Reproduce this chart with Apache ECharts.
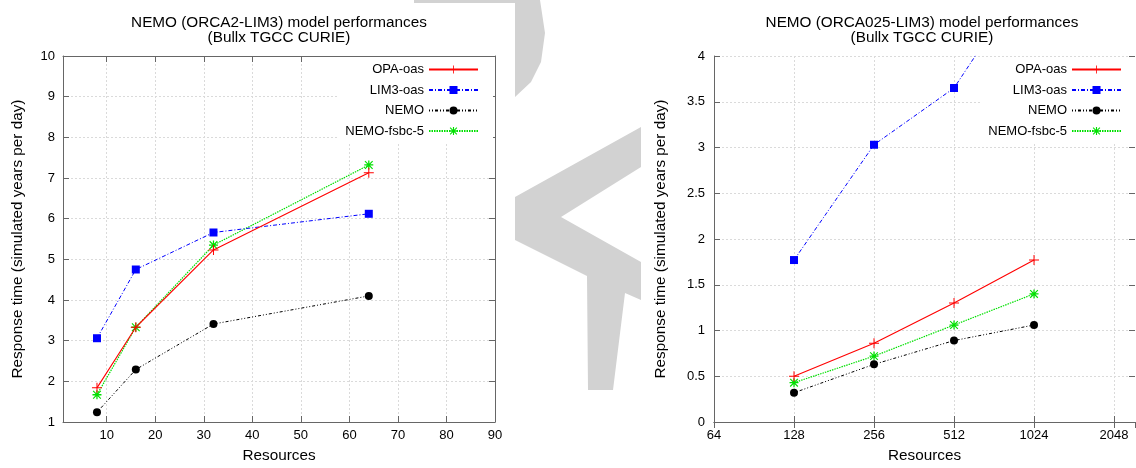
<!DOCTYPE html>
<html>
<head>
<meta charset="utf-8">
<title>NEMO model performances</title>
<script src="https://cdn.jsdelivr.net/npm/echarts@6/dist/echarts.min.js"></script>
<style>
  html, body { margin: 0; padding: 0; background: #fff; }
  #chart { width: 1136px; height: 468px; }
</style>
</head>
<body>
<div id="chart"></div>
<script>
// Left panel: ORCA2-LIM3
const resLeft = [8, 16, 32, 64];
const opaLeft = [1.84, 3.33, 5.23, 7.13];
const lim3Left = [3.06, 4.75, 5.66, 6.12];
const nemoLeft = [1.24, 2.29, 3.41, 4.10];
const fsbcLeft = [1.67, 3.33, 5.35, 7.32];

// Right panel: ORCA025-LIM3
const resRight = [128, 256, 512, 1024];
const opaRight = [0.50, 0.86, 1.30, 1.77];
const lim3Right = [1.77, 3.03, 3.65, 4.97];
const nemoRight = [0.32, 0.63, 0.89, 1.06];
const fsbcRight = [0.43, 0.72, 1.06, 1.40];

const seriesNames = ['OPA-oas', 'LIM3-oas', 'NEMO', 'NEMO-fsbc-5'];

const font = 'Liberation Sans, Arial, sans-serif';
const plusPath = 'path://M4.5,0h1v10h-1z M0,4.5h10v1h-10z';
const starPath = 'path://M4.3,0h1.4v10h-1.4z M0,4.3h10v1.4h-10z M1.2,0.3L9.7,8.8L8.8,9.7L0.3,1.2Z M8.8,0.3L9.7,1.2L1.2,9.7L0.3,8.8Z';

const styles = [
  { color: '#ff0000', dash: 'solid', width: 1.1, symbol: plusPath, size: 10 },
  { color: '#0000ff', dash: [4, 2, 1, 2], width: 1, symbol: 'rect', size: 8 },
  { color: '#000000', dash: [1, 2, 1, 2, 3, 2], width: 1, symbol: 'circle', size: 8 },
  { color: '#00e000', dash: [1.5, 1], width: 1.2, symbol: starPath, size: 9 }
];

const pairs = (xs, ys) => xs.map((x, i) => [x, ys[i]]);

const makeSeries = (gridIdx, xs, lists) => lists.map((ys, k) => ({
  name: seriesNames[k],
  type: 'line',
  xAxisIndex: gridIdx * 2,
  yAxisIndex: gridIdx * 2,
  data: pairs(xs, ys),
  symbol: styles[k].symbol,
  symbolSize: styles[k].size,
  showAllSymbol: true,
  clip: true,
  z: 10 - k,
  lineStyle: { color: styles[k].color, width: styles[k].width, type: styles[k].dash },
  itemStyle: { color: styles[k].color }
}));

const axisLine = { show: true, lineStyle: { color: '#666', width: 1 } };
const tick = { show: true, inside: true, length: 6, lineStyle: { color: '#666' } };
const grid = { show: true, lineStyle: { color: '#dadada', type: [2, 2], width: 1 } };
const label = { color: '#000', fontSize: 13, fontFamily: font };
const nameStyle = { color: '#000', fontSize: 15.3, fontFamily: font };

// primary axis + a mirror axis on the other side (gnuplot frame)
const mirror = (ax, pos, extra) => Object.assign({}, ax, {
  position: pos,
  name: '',
  axisLabel: { show: false },
  splitLine: { show: false }
}, extra || {});

const xLeft = {
  gridIndex: 0, type: 'value', min: 1, max: 90, splitNumber: 9,
  minInterval: 10, maxInterval: 10,
  name: 'Resources', nameLocation: 'middle', nameGap: 26, nameTextStyle: nameStyle,
  axisLine: axisLine, axisTick: tick, splitLine: grid,
  axisLabel: Object.assign({ margin: 7, showMinLabel: false }, label)
};
const yLeft = {
  gridIndex: 0, type: 'value', min: 1, max: 10, interval: 1,
  name: 'Response time (simulated years per day)', nameLocation: 'middle', nameGap: 38,
  nameTextStyle: nameStyle,
  axisLine: axisLine, axisTick: tick, splitLine: grid,
  axisLabel: Object.assign({ margin: 8 }, label)
};
const xRight = {
  gridIndex: 1, type: 'log', logBase: 2, min: 64, max: 2456,
  name: 'Resources', nameLocation: 'middle', nameGap: 26, nameTextStyle: nameStyle,
  axisLine: axisLine, axisTick: tick,
  splitLine: Object.assign({ showMaxLine: false }, grid),
  axisLabel: Object.assign({
    margin: 7, showMaxLabel: false,
    formatter: v => String(Math.round(v))
  }, label)
};
const yRight = {
  gridIndex: 1, type: 'value', min: 0, max: 4, interval: 0.5,
  name: 'Response time (simulated years per day)', nameLocation: 'middle', nameGap: 46,
  nameTextStyle: nameStyle,
  axisLine: axisLine, axisTick: tick, splitLine: grid,
  axisLabel: Object.assign({ margin: 9 }, label)
};

const legendBase = {
  orient: 'vertical',
  align: 'right',
  itemWidth: 49,
  itemHeight: 10,
  itemGap: 7.5,
  padding: [6, 14, 6, 8],
  backgroundColor: '#fff',
  top: 57,
  data: seriesNames,
  textStyle: { color: '#000', fontSize: 13, fontFamily: font },
  selectedMode: false
};

const titleStyle = { color: '#000', fontSize: 15.3, fontWeight: 'normal', fontFamily: font, lineHeight: 15.5 };

// light grey watermark fragments showing in the gap between the two plots
const wmStyle = { fill: '#d2d2d2' };
const watermark = [
  { type: 'polygon', z: -10, silent: true, style: wmStyle,
    shape: { points: [[414, 0], [540, 0], [545, 33], [541, 62], [531, 82], [515, 97], [515, 3], [414, 3]] } },
  { type: 'polygon', z: -10, silent: true, style: wmStyle,
    shape: { points: [[515, 197], [641, 127], [641, 167], [561, 217], [641, 262], [641, 300],
                      [625, 293], [613, 390], [588, 390], [587, 276], [515, 240]] } }
];

const chart = echarts.init(document.getElementById('chart'));
chart.setOption({
  animation: false,
  backgroundColor: '#fff',
  graphic: watermark,
  title: [
    {
      text: 'NEMO (ORCA2-LIM3) model performances\n(Bullx TGCC CURIE)',
      left: 279, top: 15, padding: 0, textAlign: 'center', textStyle: titleStyle
    },
    {
      text: 'NEMO (ORCA025-LIM3) model performances\n(Bullx TGCC CURIE)',
      left: 922, top: 15, padding: 0, textAlign: 'center', textStyle: titleStyle
    }
  ],
  legend: [
    Object.assign({}, legendBase, { right: 643 }),
    Object.assign({}, legendBase, { right: 0 })
  ],
  grid: [
    { left: 63, top: 56, width: 432, height: 370 },
    { left: 714, top: 56, width: 421, height: 370 }
  ],
  xAxis: [xLeft, mirror(xLeft, 'top'), xRight, mirror(xRight, 'top')],
  yAxis: [
    yLeft, mirror(yLeft, 'right'),
    yRight, mirror(yRight, 'right', { axisLine: { show: false } })
  ],
  series: [
    ...makeSeries(0, resLeft, [opaLeft, lim3Left, nemoLeft, fsbcLeft]),
    ...makeSeries(1, resRight, [opaRight, lim3Right, nemoRight, fsbcRight])
  ]
});
</script>
</body>
</html>
